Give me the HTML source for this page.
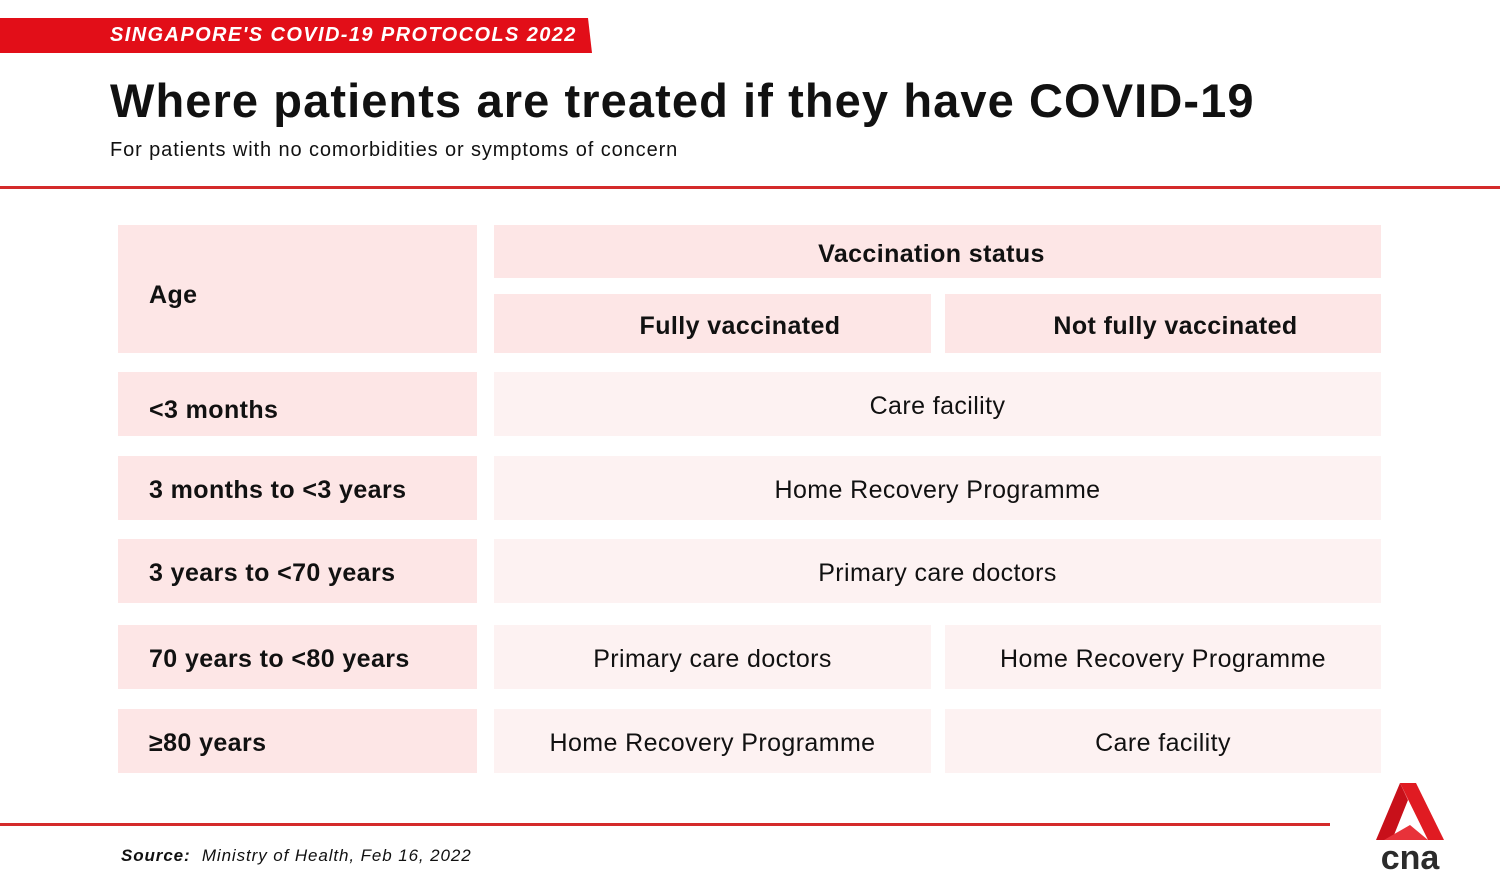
<!DOCTYPE html>
<html><head><meta charset="utf-8"><style>
body{margin:0;width:1500px;height:895px;background:#fff;position:relative;overflow:hidden;font-family:"Liberation Sans",sans-serif;color:#111}
.a{position:absolute}
.c{position:absolute;display:flex;align-items:center;font-size:25px;padding-top:5px;box-sizing:border-box;letter-spacing:0.4px}
.h{background:#fde6e6;font-weight:bold}
.l{background:#fde6e6;font-weight:bold;padding-left:31px}
.v{background:#fdf2f2;justify-content:center}
.h{justify-content:center}
</style></head><body>
<svg class="a" style="left:0;top:18px" width="600" height="36"><polygon points="0,0 588,0 592,35 0,35" fill="#e20e18"/></svg>
<div class="a" style="left:110px;top:24px;color:#fff;font-size:20px;font-weight:bold;font-style:italic;letter-spacing:1.4px">SINGAPORE'S COVID-19 PROTOCOLS 2022</div>
<div class="a" style="left:110px;top:73px;font-size:47px;font-weight:bold;letter-spacing:1.1px">Where patients are treated if they have COVID-19</div>
<div class="a" style="left:110px;top:139px;font-size:20px;letter-spacing:0.9px">For patients with no comorbidities or symptoms of concern</div>
<div class="a" style="left:0;top:186px;width:1500px;height:3px;background:#d42a2a"></div>

<div class="c l" style="left:118px;top:225px;width:359px;height:142px;height:128px;padding-top:12px">Age</div>
<div class="c h" style="left:494px;top:225px;width:887px;height:53px;padding-right:12px">Vaccination status</div>
<div class="c h" style="left:494px;top:294px;width:437px;height:59px;padding-left:55px">Fully vaccinated</div>
<div class="c h" style="left:945px;top:294px;width:436px;height:59px;padding-left:25px">Not fully vaccinated</div>

<div class="c l" style="left:118px;top:372px;width:359px;height:64px;padding-top:12px">&lt;3 months</div>
<div class="c v" style="left:494px;top:372px;width:887px;height:64px">Care facility</div>
<div class="c l" style="left:118px;top:456px;width:359px;height:64px">3 months to &lt;3 years</div>
<div class="c v" style="left:494px;top:456px;width:887px;height:64px">Home Recovery Programme</div>
<div class="c l" style="left:118px;top:539px;width:359px;height:64px">3 years to &lt;70 years</div>
<div class="c v" style="left:494px;top:539px;width:887px;height:64px">Primary care doctors</div>
<div class="c l" style="left:118px;top:625px;width:359px;height:64px">70 years to &lt;80 years</div>
<div class="c v" style="left:494px;top:625px;width:437px;height:64px">Primary care doctors</div>
<div class="c v" style="left:945px;top:625px;width:436px;height:64px">Home Recovery Programme</div>
<div class="c l" style="left:118px;top:709px;width:359px;height:64px">≥80 years</div>
<div class="c v" style="left:494px;top:709px;width:437px;height:64px">Home Recovery Programme</div>
<div class="c v" style="left:945px;top:709px;width:436px;height:64px">Care facility</div>

<div class="a" style="left:0;top:823px;width:1330px;height:3px;background:#d42a2a"></div>
<div class="a" style="left:121px;top:846px;font-size:17px;font-style:italic;letter-spacing:0.9px"><b>Source:</b>&nbsp; Ministry of Health, Feb 16, 2022</div>
<svg class="a" style="left:1370px;top:780px" width="80" height="95">
<polygon points="30,3 46,3 74,60 58,60" fill="#e01b22"/>
<polygon points="30,3 6,60 22,60 38,20" fill="#c8101a"/>
<polygon points="14,60 58,60 40,45" fill="#e8323a"/>
<text x="40" y="89" text-anchor="middle" font-family="Liberation Sans" font-weight="bold" font-size="34" fill="#2b2b2b">cna</text>
</svg>
</body></html>
